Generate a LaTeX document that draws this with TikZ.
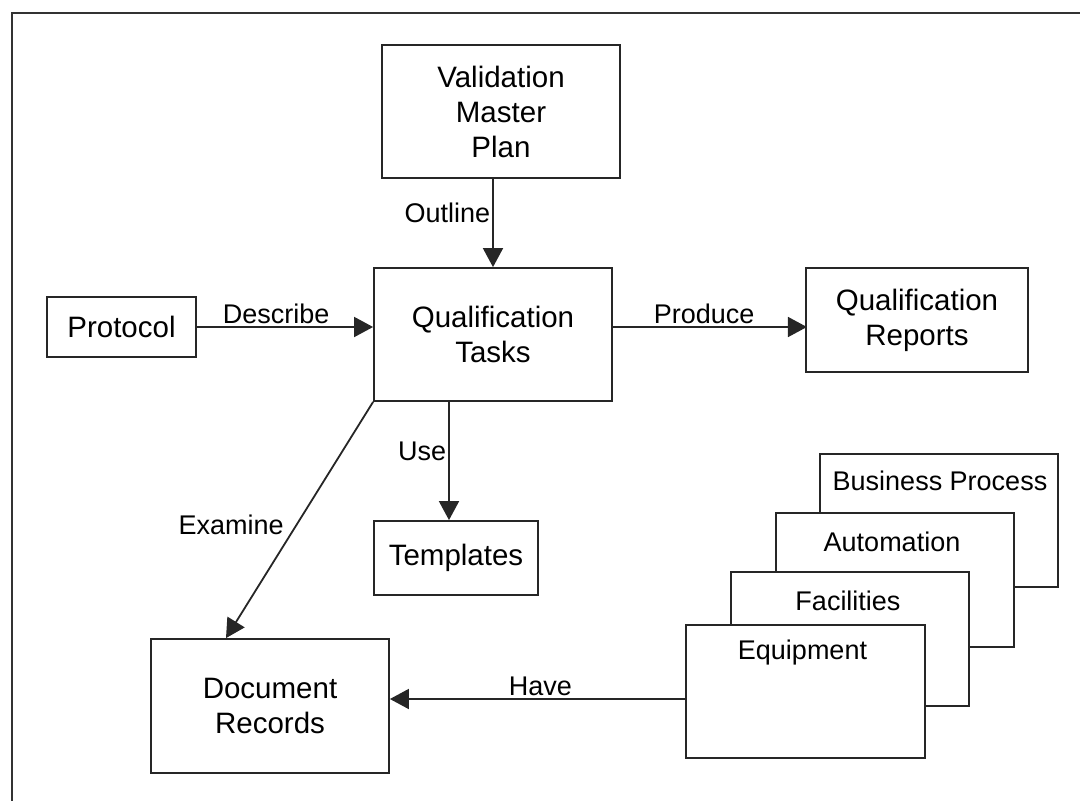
\documentclass[tikz,border=0pt]{standalone}
\usepackage{fontspec}
\setmainfont{Liberation Sans}
\usepackage{tikz}
\usetikzlibrary{positioning,calc,arrows.meta}

\begin{document}
\begin{tikzpicture}[x=1pt,y=-1pt,
    box/.style={draw=black!85,line width=1.8pt,fill=white,align=center,
      font=\fontsize{29.5}{35}\selectfont,inner sep=0pt},
    lbl/.style={font=\fontsize{27}{30}\selectfont,inner sep=2pt},
    flow/.style={draw=black!85,line width=1.8pt,-{Triangle[length=19pt,width=20pt]}}]
  \useasboundingbox (0,0) rectangle (1080,801);
  % Outer frame
  \draw[black!80,line width=1.5pt] (12,801) -- (12,13) -- (1080,13);

  % Main boxes
  \node[box,minimum width=238pt,minimum height=133pt] (vmp) at (501,111.5) {Validation\\Master\\Plan};
  \node[box,minimum width=238pt,minimum height=133pt] (tasks) at (493,334.5) {Qualification\\Tasks};
  \node[box,minimum width=149pt,minimum height=60pt] (protocol) at (121.5,327) {Protocol};
  \node[box,minimum width=222pt,minimum height=104pt] (reports) at (917,320) {Qualification\\Reports};
  \node[box,minimum width=164pt,minimum height=74pt] (templates) at (456,558) {Templates};
  \node[box,minimum width=238pt,minimum height=134pt] (records) at (270,706) {Document\\Records};

  % Stacked boxes
  \node[box,minimum width=238pt,minimum height=133pt] (business) at (939,520.5) {};
  \node[lbl] (businessT) at ($(business.north)+(1,28)$) {Business Process};
  \node[box,minimum width=238pt,minimum height=134pt] (automation) at (895,580) {};
  \node[lbl] (automationT) at ($(automation.north)+(-3,30)$) {Automation};
  \node[box,minimum width=238pt,minimum height=134pt] (facilities) at (850,639) {};
  \node[lbl] (facilitiesT) at ($(facilities.north)+(-2,30)$) {Facilities};
  \node[box,minimum width=239pt,minimum height=133pt] (equipment) at (805.5,691.5) {};
  \node[lbl] (equipmentT) at ($(equipment.north)+(-3,28)$) {Equipment};

  % Connectors
  \draw[flow] (vmp.south -| tasks.north) -- node[lbl,left,pos=0.38] {Outline} (tasks.north);
  \draw[flow] (protocol.east) -- node[lbl,above,pos=0.45] {Describe} (protocol.east -| tasks.west);
  \draw[flow] (tasks.east |- reports.west) ++(0,7) -- node[lbl,above,pos=0.47] {Produce} ++(194,0);
  \draw[flow] ([xshift=-7pt]templates.north |- tasks.south) -- node[lbl,left,pos=0.42] {Use} ([xshift=-7pt]templates.north);
  \draw[flow] (tasks.south west) -- node[lbl,left,pos=0.52,xshift=-10pt] {Examine} ([xshift=-44pt]records.north);
  \coordinate (haveS) at ([yshift=-7.5pt]equipment.west);
  \draw[flow] (haveS) -- node[lbl,above,pos=0.49] {Have} (haveS -| records.east);
\end{tikzpicture}
\end{document}
